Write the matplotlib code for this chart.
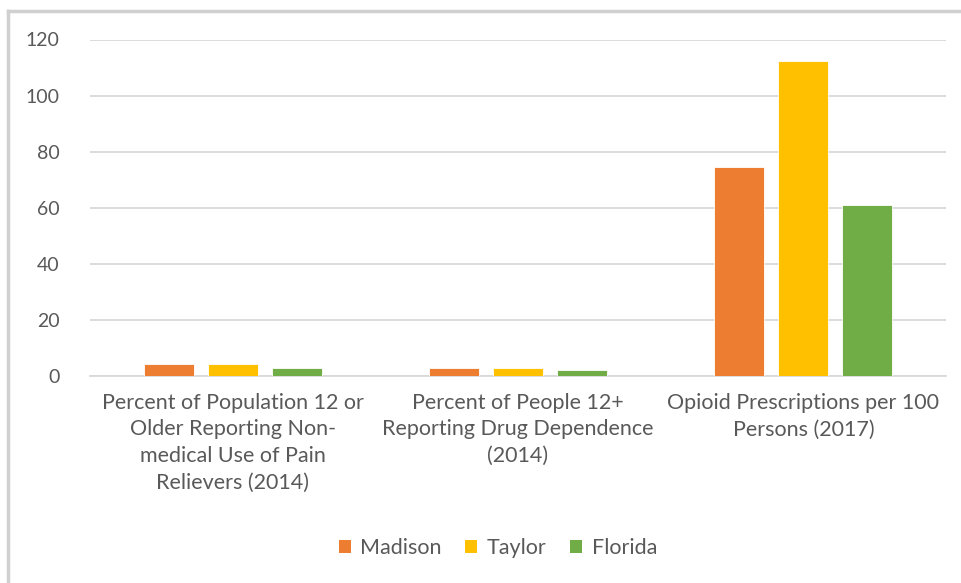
import numpy as np
import matplotlib
matplotlib.use('Agg')
import matplotlib.pyplot as plt
from matplotlib.lines import Line2D
from matplotlib.patches import Patch

categories = [
    "Percent of Population 12 or\nOlder Reporting Non-\nmedical Use of Pain\nRelievers (2014)",
    "Percent of People 12+\nReporting Drug Dependence\n(2014)",
    "Opioid Prescriptions per 100\nPersons (2017)",
]
series_names = ["Madison", "Taylor", "Florida"]
madison = [4.4, 3.0, 74.4]
taylor = [4.4, 3.0, 112.3]
florida = [3.0, 2.3, 61.0]
yticks = [0, 20, 40, 60, 80, 100, 120]

colors = ["#ED7D31", "#FFC000", "#70AD47"]
text_color = "#595959"
grid_color = "#D9D9D9"

plt.rcParams['font.family'] = ['Lato', 'DejaVu Sans']

W, H = 961, 583
fig = plt.figure(figsize=(W / 100, H / 100), dpi=100)
fig.patch.set_facecolor("white")

ax = fig.add_axes([90 / W, 1 - 376 / H, (946 - 90) / W, (376 - 39.5) / H])

x = np.arange(len(categories))
bar_w = 0.175
step = 0.224
for i, (name, vals) in enumerate(zip(series_names, [madison, taylor, florida])):
    ax.bar(x + (i - 1) * step, vals, width=bar_w, color=colors[i], zorder=3,
           edgecolor="white", linewidth=0.6)

ax.set_xlim(-0.5, 2.5)
ax.set_ylim(0, 120)
ax.set_yticks(yticks)
ax.set_yticklabels([str(v) for v in yticks], color=text_color, fontsize=14)
ax.tick_params(axis="y", length=0, pad=22)
ax.set_xticks(x)
ax.set_xticklabels(categories, color=text_color, fontsize=15.5, linespacing=1.42,
                   va="top")
ax.tick_params(axis="x", length=0, pad=12)
ax.yaxis.grid(True, color=grid_color, linewidth=1.3, zorder=0)
for side in ["top", "right", "left"]:
    ax.spines[side].set_visible(False)
ax.spines["bottom"].set_color(grid_color)
ax.spines["bottom"].set_linewidth(1.3)

handles = [Patch(facecolor=c, edgecolor="none") for c in colors]
fig.legend(handles, series_names, loc="center", bbox_to_anchor=(498 / W, 1 - 548 / H),
           ncol=3, frameon=False, fontsize=15.5, labelcolor=text_color,
           handlelength=0.55, handleheight=0.55, handletextpad=0.45, columnspacing=1.1)

# chart area border (top and left edges)
fig.add_artist(Line2D([8 / W, 1.0], [1 - 11 / H, 1 - 11 / H], transform=fig.transFigure,
                      color="#D0D0D0", linewidth=2.5))
fig.add_artist(Line2D([8 / W, 8 / W], [0.0, 1 - 11 / H], transform=fig.transFigure,
                      color="#D0D0D0", linewidth=2.5))

fig.savefig("out.png", dpi=100, facecolor="white")
